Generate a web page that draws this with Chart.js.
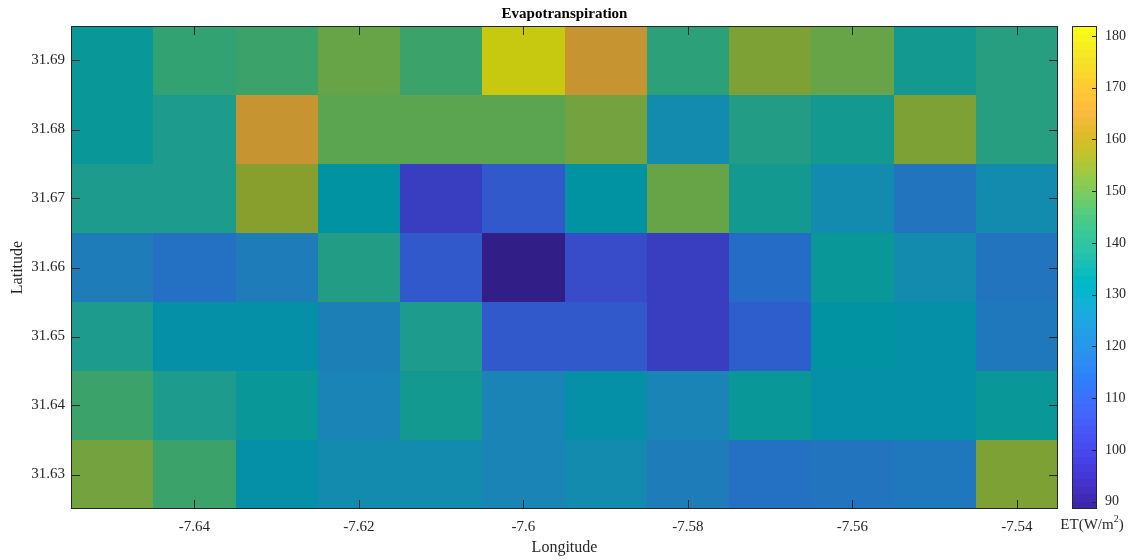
<!DOCTYPE html>
<html>
<head>
<meta charset="utf-8">
<script src="https://cdn.jsdelivr.net/npm/chart.js@4/dist/chart.umd.min.js"></script>
<style>
  html, body { margin: 0; padding: 0; background: #fff; }
  #wrap { position: relative; width: 1132px; height: 560px; }
  #main { position: absolute; left: 0; top: 0; }
  #cbar { position: absolute; left: 1040px; top: 0; }
</style>
</head>
<body>
<div id="wrap">
  <canvas id="main" width="1132" height="560"></canvas>
  <canvas id="cbar" width="92" height="560"></canvas>
</div>
<script>
// ---- Data ----
const longitudes = [-7.65, -7.64, -7.63, -7.62, -7.61, -7.60, -7.59, -7.58, -7.57, -7.56, -7.55, -7.54];
const latitudes = [31.69, 31.68, 31.67, 31.66, 31.65, 31.64, 31.63];
// ET values (W/m^2), one row per latitude (top to bottom), one column per longitude
const et_31_69 = [134.5, 143.0, 144.9, 150.8, 144.9, 181.9, 164.9, 141.2, 153.8, 150.8, 136.0, 141.0];
const et_31_68 = [134.5, 137.2, 165.6, 149.3, 149.3, 149.3, 152.3, 127.8, 138.7, 136.0, 153.8, 141.0];
const et_31_67 = [137.2, 137.2, 155.3, 132.3, 100.4, 109.3, 132.3, 150.8, 136.0, 127.1, 119.0, 127.0];
const et_31_66 = [120.7, 116.7, 120.7, 138.7, 109.6, 88.6, 105.6, 100.4, 115.3, 134.5, 127.0, 118.0];
const et_31_65 = [137.5, 130.8, 130.8, 122.7, 137.5, 109.3, 110.0, 100.4, 110.8, 132.3, 130.0, 119.4];
const et_31_64 = [144.9, 137.5, 134.3, 124.1, 136.0, 124.5, 130.0, 125.0, 134.5, 130.5, 130.5, 134.5];
const et_31_63 = [152.3, 144.9, 130.0, 127.0, 127.0, 124.0, 127.0, 120.7, 117.0, 118.5, 119.5, 153.8];
const etRows = [et_31_69, et_31_68, et_31_67, et_31_66, et_31_65, et_31_64, et_31_63];
const xTicks = [-7.64, -7.62, -7.60, -7.58, -7.56, -7.54];
const yTicks = [31.63, 31.64, 31.65, 31.66, 31.67, 31.68, 31.69];
const cbTicks = [90, 100, 110, 120, 130, 140, 150, 160, 170, 180];
const cMin = 88.6, cMax = 181.9;
const cellW = 0.01, cellH = 0.01;

// ---- Parula colormap (64) ----
const parula = [
[0.2422,0.1504,0.6603],[0.2504,0.1650,0.7076],[0.2578,0.1818,0.7511],[0.2647,0.1978,0.7952],
[0.2706,0.2147,0.8364],[0.2751,0.2342,0.8710],[0.2783,0.2559,0.8991],[0.2803,0.2782,0.9221],
[0.2813,0.3006,0.9414],[0.2810,0.3228,0.9579],[0.2795,0.3447,0.9717],[0.2760,0.3667,0.9829],
[0.2699,0.3892,0.9906],[0.2602,0.4123,0.9952],[0.2440,0.4358,0.9988],[0.2206,0.4603,0.9973],
[0.1963,0.4847,0.9892],[0.1834,0.5074,0.9798],[0.1786,0.5289,0.9682],[0.1764,0.5499,0.9520],
[0.1687,0.5703,0.9359],[0.1540,0.5902,0.9218],[0.1460,0.6091,0.9079],[0.1380,0.6276,0.8973],
[0.1248,0.6459,0.8883],[0.1113,0.6635,0.8763],[0.0952,0.6798,0.8598],[0.0689,0.6948,0.8394],
[0.0297,0.7082,0.8163],[0.0036,0.7203,0.7917],[0.0067,0.7312,0.7660],[0.0433,0.7411,0.7394],
[0.0964,0.7500,0.7120],[0.1408,0.7584,0.6842],[0.1717,0.7670,0.6554],[0.1938,0.7758,0.6251],
[0.2161,0.7843,0.5923],[0.2470,0.7918,0.5567],[0.2906,0.7973,0.5188],[0.3406,0.8008,0.4789],
[0.3909,0.8029,0.4354],[0.4456,0.8024,0.3909],[0.5044,0.7993,0.3480],[0.5616,0.7942,0.3045],
[0.6174,0.7876,0.2612],[0.6720,0.7793,0.2227],[0.7242,0.7698,0.1910],[0.7738,0.7598,0.1646],
[0.8203,0.7498,0.1535],[0.8634,0.7406,0.1596],[0.9035,0.7330,0.1774],[0.9393,0.7288,0.2100],
[0.9728,0.7298,0.2394],[0.9956,0.7434,0.2371],[0.9970,0.7659,0.2199],[0.9952,0.7893,0.2028],
[0.9892,0.8136,0.1885],[0.9786,0.8386,0.1766],[0.9676,0.8639,0.1643],[0.9610,0.8890,0.1537],
[0.9597,0.9135,0.1423],[0.9628,0.9373,0.1265],[0.9691,0.9606,0.1064],[0.9769,0.9839,0.0805]];

function cmapIndex(v) {
  let i = Math.floor((v - cMin) / (cMax - cMin) * 64);
  return Math.max(0, Math.min(63, i));
}
function rgb(c, f) {
  return 'rgb(' + Math.round(c[0]*255*f) + ',' + Math.round(c[1]*255*f) + ',' + Math.round(c[2]*255*f) + ')';
}
const cellShade = 0.8;

// Build points
const cells = [];
latitudes.forEach((lat, r) => {
  longitudes.forEach((lon, c) => {
    cells.push({ x: lon, y: lat, v: etRows[r][c] });
  });
});

const FONT = "'Liberation Serif', 'Times New Roman', serif";
const TXT = '#262626';
const fmt = (v) => String(Number(v.toFixed(2)));

const heatPlugin = {
  id: 'heat',
  beforeDatasetsDraw(chart) {
    const { ctx, chartArea } = chart;
    const xs = chart.scales.x, ys = chart.scales.y;
    ctx.save();
    ctx.beginPath();
    ctx.rect(chartArea.left, chartArea.top, chartArea.right - chartArea.left, chartArea.bottom - chartArea.top);
    ctx.clip();
    chart.data.datasets[0].data.forEach(p => {
      const x0 = Math.round(xs.getPixelForValue(p.x - cellW / 2));
      const x1 = Math.round(xs.getPixelForValue(p.x + cellW / 2));
      const y0 = Math.round(ys.getPixelForValue(p.y + cellH / 2));
      const y1 = Math.round(ys.getPixelForValue(p.y - cellH / 2));
      ctx.fillStyle = rgb(parula[cmapIndex(p.v)], cellShade);
      ctx.fillRect(x0, y0, x1 - x0, y1 - y0);
    });
    ctx.restore();
  },
  afterDraw(chart) {
    const { ctx, chartArea } = chart;
    const xs = chart.scales.x, ys = chart.scales.y;
    const L = chartArea.left, R = chartArea.right, T = chartArea.top, B = chartArea.bottom;
    ctx.save();
    ctx.strokeStyle = TXT;
    ctx.lineWidth = 1;
    const tl = 9;
    ctx.beginPath();
    xs.ticks.forEach(t => {
      const x = Math.round(xs.getPixelForValue(t.value)) + 0.5;
      ctx.moveTo(x, B); ctx.lineTo(x, B - tl);
      ctx.moveTo(x, T); ctx.lineTo(x, T + tl);
    });
    ys.ticks.forEach(t => {
      const y = Math.round(ys.getPixelForValue(t.value)) + 0.5;
      ctx.moveTo(L, y); ctx.lineTo(L + tl, y);
      ctx.moveTo(R, y); ctx.lineTo(R - tl, y);
    });
    ctx.stroke();
    ctx.strokeRect(Math.round(L) + 0.5, Math.round(T) + 0.5, Math.round(R - L) - 1, Math.round(B - T) - 1);
    ctx.restore();
  }
};

new Chart(document.getElementById('main'), {
  type: 'scatter',
  data: { datasets: [{ data: cells, pointRadius: 0, pointHoverRadius: 0 }] },
  options: {
    responsive: false,
    animation: false,
    events: [],
    layout: { padding: { left: 0, right: 74, top: 0, bottom: 0 } },
    plugins: {
      legend: { display: false },
      tooltip: { enabled: false },
      title: {
        display: true, text: 'Evapotranspiration', color: '#000', fullSize: false,
        font: { family: FONT, size: 15, weight: 'bold' },
        padding: { top: 5, bottom: 3 }
      }
    },
    scales: {
      x: {
        type: 'linear', min: -7.655, max: -7.535,
        afterFit(s) { s.height = 51; },
        grid: { display: true, drawOnChartArea: false, drawTicks: false, color: 'rgba(0,0,0,0)' },
        border: { display: false },
        afterBuildTicks(s) { s.ticks = xTicks.map(v => ({ value: v })); },
        ticks: { color: TXT, font: { family: FONT, size: 15 }, padding: 9, callback: fmt, maxRotation: 0 },
        title: { display: true, text: 'Longitude', color: TXT, font: { family: FONT, size: 16 }, padding: { top: 0, bottom: 3 } }
      },
      y: {
        type: 'linear', min: 31.625, max: 31.695,
        afterFit(s) { s.width = 71; },
        grid: { display: true, drawOnChartArea: false, drawTicks: false, color: 'rgba(0,0,0,0)' },
        border: { display: false },
        afterBuildTicks(s) { s.ticks = yTicks.map(v => ({ value: v })); },
        ticks: { color: TXT, font: { family: FONT, size: 15 }, padding: 6, callback: fmt },
        title: { display: true, text: 'Latitude', color: TXT, font: { family: FONT, size: 16 }, padding: { top: 8, bottom: 0 } }
      }
    }
  },
  plugins: [heatPlugin]
});

// ---- Colorbar ----
const cbarPlugin = {
  id: 'cbarFill',
  beforeDatasetsDraw(chart) {
    const { ctx, chartArea } = chart;
    const ys = chart.scales.y;
    ctx.save();
    for (let k = 0; k < 64; k++) {
      const v0 = cMin + (cMax - cMin) * k / 64;
      const v1 = cMin + (cMax - cMin) * (k + 1) / 64;
      const y0 = ys.getPixelForValue(v1), y1 = ys.getPixelForValue(v0);
      ctx.fillStyle = rgb(parula[k], 1);
      ctx.fillRect(chartArea.left, Math.floor(y0), chartArea.right - chartArea.left, Math.ceil(y1) - Math.floor(y0));
    }
    ctx.restore();
  },
  afterDraw(chart) {
    const { ctx, chartArea } = chart;
    const ys = chart.scales.y;
    const L = chartArea.left, R = chartArea.right, T = chartArea.top, B = chartArea.bottom;
    ctx.save();
    ctx.strokeStyle = TXT;
    ctx.lineWidth = 1;
    ctx.beginPath();
    ys.ticks.forEach(t => {
      const y = Math.round(ys.getPixelForValue(t.value)) + 0.5;
      ctx.moveTo(R, y); ctx.lineTo(R - 5, y);
    });
    ctx.stroke();
    ctx.strokeRect(Math.round(L) + 0.5, Math.round(T) + 0.5, Math.round(R - L) - 1, Math.round(B - T) - 1);
    // label ET(W/m^2)
    ctx.fillStyle = TXT;
    ctx.textBaseline = 'alphabetic';
    ctx.textAlign = 'left';
    const f1 = '15px ' + FONT, f2 = '10px ' + FONT;
    ctx.font = f1;
    const a = 'ET(W/m', b = '2', c = ')';
    const wa = ctx.measureText(a).width, wc = ctx.measureText(c).width;
    ctx.font = f2;
    const wb = ctx.measureText(b).width;
    const total = wa + wb + wc;
    const cx = 52, base = 529;
    let x = cx - total / 2;
    ctx.font = f1; ctx.fillText(a, x, base); x += wa;
    ctx.font = f2; ctx.fillText(b, x, base - 7); x += wb;
    ctx.font = f1; ctx.fillText(c, x, base);
    ctx.restore();
  }
};

new Chart(document.getElementById('cbar'), {
  type: 'scatter',
  data: { datasets: [{ data: [], pointRadius: 0 }] },
  options: {
    responsive: false,
    animation: false,
    events: [],
    layout: { padding: { left: 32, right: 0, top: 26, bottom: 51 } },
    plugins: { legend: { display: false }, tooltip: { enabled: false }, title: { display: false } },
    scales: {
      x: { display: false, min: 0, max: 1 },
      y: {
        type: 'linear', position: 'right', min: cMin, max: cMax,
        afterFit(s) { s.width = 35; },
        grid: { display: true, drawOnChartArea: false, drawTicks: false, color: 'rgba(0,0,0,0)' },
        border: { display: false },
        afterBuildTicks(s) { s.ticks = cbTicks.map(v => ({ value: v })); },
        ticks: { color: TXT, font: { family: FONT, size: 14 }, padding: 8 }
      }
    }
  },
  plugins: [cbarPlugin]
});
</script>
</body>
</html>
